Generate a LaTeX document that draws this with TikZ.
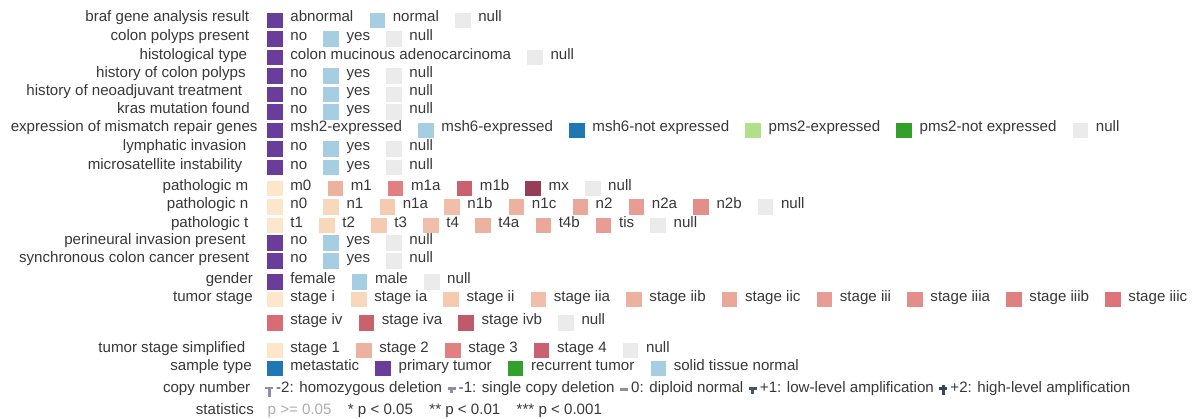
\documentclass[tikz,border=0pt]{standalone}
\usepackage{fontspec}
\setmainfont{Liberation Sans}
\newcommand\lgfont{\fontsize{15.1bp}{18bp}\selectfont}

% category colours
\definecolor{ink}{HTML}{383838}
\definecolor{pgray}{HTML}{ADADAD}
\definecolor{purple}{HTML}{6A3D9A}
\definecolor{lblue}{HTML}{A6CEE3}
\definecolor{dblue}{HTML}{1F78B4}
\definecolor{lgreen}{HTML}{B2DF8A}
\definecolor{dgreen}{HTML}{33A02C}
\definecolor{nullc}{HTML}{EBEBEB}
% stage ramp, light to dark
\definecolor{c1}{HTML}{FDE6C9}
\definecolor{c2}{HTML}{F8D8BB}
\definecolor{c3}{HTML}{F5CAB1}
\definecolor{c4}{HTML}{F0BEA9}
\definecolor{c5}{HTML}{ECB2A0}
\definecolor{c6}{HTML}{EAA89A}
\definecolor{c7}{HTML}{E79C94}
\definecolor{c8}{HTML}{E48E8A}
\definecolor{c9}{HTML}{E08080}
\definecolor{c10}{HTML}{DC7479}
\definecolor{c11}{HTML}{D86B73}
\definecolor{c12}{HTML}{C9616E}
\definecolor{c13}{HTML}{C05A6A}
\definecolor{c14}{HTML}{963D57}
% copy number glyphs
\definecolor{cnneg}{HTML}{8E8EA0}
\definecolor{cnlow}{HTML}{4A5270}
\definecolor{cnhigh}{HTML}{34455E}

\tikzset{
  lab/.style={inner sep=0, text=ink, font=\lgfont, anchor=base east},
  itm/.style={inner sep=0, text=ink, font=\lgfont, anchor=base west},
  swatch/.style={inner sep=0, minimum size=15.5bp, draw=none, anchor=north west},
  origin/.style={inner sep=0, anchor=base east},
}

% one legend row: #1 name, #2 baseline, #3 list of colour/label
\newcommand\lgrow[3]{%
  \node[origin] (#1-t0) at (251.2,#2) {};
  \foreach \col/\lbl [count=\i, remember=\i as \j (initially 0)] in {#3} {
    \node[swatch, fill=\col] (#1-s\i) at ([xshift=15.8bp, yshift=9.3bp]#1-t\j.base east) {};
    \node[itm] (#1-t\i) at ([xshift=7.3bp, yshift=-9.3bp]#1-s\i.north east) {\lbl};
  }%
}

\begin{document}
\begin{tikzpicture}[x=1bp, y=-1bp]
\fill[white] (0,0) rectangle (1194,418);
\useasboundingbox (0,0) rectangle (1194,418);

% row labels
\node[lab] (l1)  at (249.3,21.7)  {braf gene analysis result};
\node[lab] (l2)  at (249.3,40.3)  {colon polyps present};
\node[lab] (l3)  at (247.3,59)    {histological type};
\node[lab] (l4)  at (245.8,77.3)  {history of colon polyps};
\node[lab] (l5)  at (242.4,95.7)  {history of neoadjuvant treatment};
\node[lab] (l6)  at (250,113.3)   {kras mutation found};
\node[lab] (l7)  at (257.7,131.7) {expression of mismatch repair genes};
\node[lab] (l8)  at (246.5,150.5) {lymphatic invasion};
\node[lab] (l9)  at (242.4,169)   {microsatellite instability};
\node[lab] (l10) at (248.5,190)   {pathologic m};
\node[lab] (l11) at (248.5,208.3) {pathologic n};
\node[lab] (l12) at (248.5,227)   {pathologic t};
\node[lab] (l13) at (245.8,244.5) {perineural invasion present};
\node[lab] (l14) at (249.3,262.5) {synchronous colon cancer present};
\node[lab] (l15) at (253,283.5)   {gender};
\node[lab] (l16) at (253,301)     {tumor stage};
\node[lab] (l18) at (245.5,352)   {tumor stage simplified};
\node[lab] (l19) at (252,370)     {sample type};
\node[lab] (l20) at (250.5,392.5) {copy number};
\node[lab] (l21) at (254,414)     {statistics};

% legend rows
\lgrow{r1}{21.7}{purple/abnormal, lblue/normal, nullc/null}
\lgrow{r2}{40.3}{purple/no, lblue/yes, nullc/null}
\lgrow{r3}{59}{purple/colon mucinous adenocarcinoma, nullc/null}
\lgrow{r4}{77.3}{purple/no, lblue/yes, nullc/null}
\lgrow{r5}{95.7}{purple/no, lblue/yes, nullc/null}
\lgrow{r6}{113.3}{purple/no, lblue/yes, nullc/null}
\lgrow{r7}{131.7}{purple/msh2-expressed, lblue/msh6-expressed, dblue/msh6-not expressed, lgreen/pms2-expressed, dgreen/pms2-not expressed, nullc/null}
\lgrow{r8}{150.5}{purple/no, lblue/yes, nullc/null}
\lgrow{r9}{169}{purple/no, lblue/yes, nullc/null}
\lgrow{r10}{190}{c1/m0, c5/m1, c9/m1a, c12/m1b, c14/mx, nullc/null}
\lgrow{r11}{208.3}{c1/n0, c2/n1, c3/n1a, c4/n1b, c5/n1c, c6/n2, c7/n2a, c8/n2b, nullc/null}
\lgrow{r12}{227}{c1/t1, c2/t2, c3/t3, c4/t4, c5/t4a, c6/t4b, c7/tis, nullc/null}
\lgrow{r13}{244.5}{purple/no, lblue/yes, nullc/null}
\lgrow{r14}{262.5}{purple/no, lblue/yes, nullc/null}
\lgrow{r15}{283.5}{purple/female, lblue/male, nullc/null}
\lgrow{r16}{301}{c1/stage i, c2/stage ia, c3/stage ii, c4/stage iia, c5/stage iib, c6/stage iic, c7/stage iii, c8/stage iiia, c9/stage iiib, c10/stage iiic}
\lgrow{r17}{324.5}{c11/stage iv, c12/stage iva, c13/stage ivb, nullc/null}
\lgrow{r18}{352}{c1/stage 1, c5/stage 2, c9/stage 3, c12/stage 4, nullc/null}
\lgrow{r19}{370}{dblue/metastatic, purple/primary tumor, dgreen/recurrent tumor, lblue/solid tissue normal}

% copy number glyphs and labels
\coordinate (cn-i1) at (265,392.5);
\fill[cnneg] ([shift={(0,-5.8)}]cn-i1) rectangle ++(8,2.5);
\fill[cnneg] ([shift={(2.5,-3.3)}]cn-i1) rectangle ++(3,7.5);
\node[itm] (cn-t1) at ([xshift=11bp]cn-i1) {-2: homozygous deletion};
\coordinate (cn-i2) at ([xshift=5.2bp]cn-t1.base east);
\fill[cnneg] ([shift={(0,-5.3)}]cn-i2) rectangle ++(8,2.3);
\fill[cnneg] ([shift={(2.5,-3)}]cn-i2) rectangle ++(3,3.3);
\node[itm] (cn-t2) at ([xshift=11bp]cn-i2) {-1: single copy deletion};
\coordinate (cn-i3) at ([xshift=5.2bp]cn-t2.base east);
\fill[cnneg] ([shift={(0,-4.3)}]cn-i3) rectangle ++(8,2.3);
\node[itm] (cn-t3) at ([xshift=11bp]cn-i3) {0: diploid normal};
\coordinate (cn-i4) at ([xshift=5.2bp]cn-t3.base east);
\fill[cnlow] ([shift={(0,-5.3)}]cn-i4) rectangle ++(8,2.3);
\fill[cnlow] ([shift={(2.5,-3)}]cn-i4) rectangle ++(3,4.3);
\node[itm] (cn-t4) at ([xshift=11bp]cn-i4) {+1: low-level amplification};
\coordinate (cn-i5) at ([xshift=5.2bp]cn-t4.base east);
\fill[cnhigh] ([shift={(0,-5.3)}]cn-i5) rectangle ++(8,2.3);
\fill[cnhigh] ([shift={(2.5,-8)}]cn-i5) rectangle ++(3,10);
\node[itm] (cn-t5) at ([xshift=11bp]cn-i5) {+2: high-level amplification};

% significance key
\node[itm, text=pgray] (st1) at (267.5,414) {p >= 0.05};
\node[itm] (st2) at ([xshift=16bp]st1.base east) {* p < 0.05};
\node[itm] (st3) at ([xshift=16bp]st2.base east) {** p < 0.01};
\node[itm] (st4) at ([xshift=16bp]st3.base east) {*** p < 0.001};
\end{tikzpicture}
\end{document}
